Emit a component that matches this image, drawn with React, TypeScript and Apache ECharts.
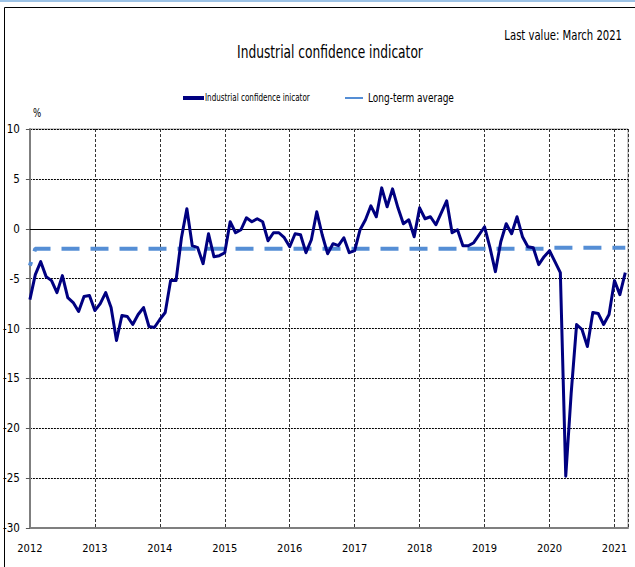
import React, { useEffect, useRef } from 'react';
import * as echarts from 'echarts';

const START_YEAR = 2012;
const yearLabels = ['2012', '2013', '2014', '2015', '2016', '2017', '2018', '2019', '2020', '2021'];

// Monthly values, Jan 2012 .. Mar 2021
const confidence = [
  // 2012
  -7.1, -4.6, -3.3, -4.8, -5.2, -6.4, -4.7, -6.9, -7.4, -8.3, -6.8, -6.7,
  // 2013
  -8.2, -7.5, -6.4, -7.9, -11.2, -8.7, -8.8, -9.6, -8.6, -7.9, -9.8, -9.9,
  // 2014
  -9.1, -8.4, -5.2, -5.2, -0.9, 2.0, -1.7, -1.9, -3.5, -0.5, -2.8, -2.7,
  // 2015
  -2.4, 0.7, -0.4, -0.1, 1.1, 0.7, 1.0, 0.7, -1.2, -0.4, -0.4, -0.9,
  // 2016
  -1.8, -0.5, -0.6, -2.4, -1.1, 1.7, -0.6, -2.5, -1.5, -1.7, -0.9, -2.4,
  // 2017
  -2.2, -0.1, 0.9, 2.3, 1.2, 4.1, 2.2, 4.0, 2.1, 0.5, 0.9, -0.8,
  // 2018
  2.1, 1.0, 1.2, 0.4, 1.6, 2.8, -0.4, -0.1, -1.7, -1.7, -1.4, -0.6,
  // 2019
  0.2, -1.9, -4.3, -1.3, 0.5, -0.5, 1.2, -0.8, -1.8, -1.9, -3.6, -2.8,
  // 2020
  -2.2, -3.3, -4.4, -24.8, -16.5, -9.6, -10.1, -11.8, -8.4, -8.5, -9.6, -8.6,
  // 2021
  -5.2, -6.6, -4.4,
];

const longTermAverage = [
  -3.7, -2.0, -2.0, -2.0, -2.0, -2.0, -2.0, -2.0, -2.0, -2.0, -2.0, -2.0,
  -2.0, -2.0, -2.0, -2.0, -2.0, -2.0, -2.0, -2.0, -2.0, -2.0, -2.0, -2.0,
  -2.0, -2.0, -2.0, -2.0, -2.0, -2.0, -2.0, -2.0, -2.0, -2.0, -2.0, -2.0,
  -2.0, -2.0, -2.0, -2.0, -2.0, -2.0, -2.0, -2.0, -2.0, -2.0, -2.0, -2.0,
  -2.0, -2.0, -2.0, -2.0, -2.0, -2.0, -2.0, -2.0, -2.0, -2.0, -2.0, -2.0,
  -2.0, -2.0, -2.0, -2.0, -2.0, -2.0, -2.0, -2.0, -2.0, -2.0, -2.0, -2.0,
  -2.0, -2.0, -2.0, -2.0, -2.0, -2.0, -2.0, -2.0, -2.0, -2.0, -2.0, -2.0,
  -2.0, -2.0, -2.0, -2.0, -2.0, -2.0, -2.0, -2.0, -2.0, -2.0, -2.0, -2.0,
  -1.9, -1.9, -1.9, -1.9, -1.9, -1.9, -1.9, -1.9, -1.9, -1.9, -1.9, -1.9,
  -1.9, -1.9, -1.9,
];

const Y_MIN = -30;
const Y_MAX = 10;
const Y_STEP = 5;

const SERIES_MAIN = 'Industrial confidence inicator';
const SERIES_AVG = 'Long-term average';
const TITLE = 'Industrial confidence indicator';
const SUBTITLE = 'Last value: March 2021';

const FONT = '"DejaVu Sans Condensed", "Liberation Sans Narrow", sans-serif';
const NAVY = '#000080';
const LIGHT_BLUE = '#558ed5';
const NARROW = 0.8;

function narrowText(text: string, x: number, y: number, size: number, align: string) {
  return {
    type: 'text',
    x,
    y,
    scaleX: NARROW,
    silent: true,
    style: {
      text,
      font: `${size}px ${FONT}`,
      fill: '#000',
      textAlign: align,
      textVerticalAlign: 'middle',
    },
  };
}

export default function App() {
  const ref = useRef<HTMLDivElement>(null);

  useEffect(() => {
    document.body.style.margin = '0';
    const chart = echarts.init(ref.current!, null, { renderer: 'svg' });
    const option: any = {
      animation: false,
      backgroundColor: '#ffffff',
      textStyle: { fontFamily: FONT },
      grid: {
        left: 29,
        right: 7,
        top: 129,
        bottom: 39,
        show: true,
        borderColor: '#9a9a9a',
        borderWidth: 1,
        containLabel: false,
      },
      xAxis: {
        type: 'value',
        min: 0,
        max: confidence.length - 0.5,
        interval: 12,
        axisLine: { show: true, onZero: false, lineStyle: { color: '#7f7f7f', width: 2 } },
        axisTick: { show: false },
        axisLabel: {
          fontFamily: FONT,
          fontSize: 11,
          color: '#000',
          margin: 15,
          showMaxLabel: false,
          formatter: (v: number) => {
            const k = Math.round(v);
            if (Math.abs(v - k) > 1e-6 || k % 12 !== 0) return '';
            return yearLabels[k / 12] ?? String(START_YEAR + k / 12);
          },
        },
        splitLine: { show: true, lineStyle: { color: '#333', type: [3, 2], width: 1 } },
      },
      yAxis: {
        type: 'value',
        min: Y_MIN,
        max: Y_MAX,
        interval: Y_STEP,
        axisLine: { show: true, lineStyle: { color: '#7f7f7f', width: 2 } },
        axisTick: { show: true, length: 4, lineStyle: { color: '#555' } },
        axisLabel: { fontFamily: FONT, fontSize: 11.5, color: '#000', margin: 10 },
        splitLine: { show: true, lineStyle: { color: '#000', type: [2, 1], width: 1 } },
      },
      series: [
        {
          name: SERIES_AVG,
          type: 'line',
          data: longTermAverage.map((v, i) => [i, v]),
          showSymbol: false,
          symbol: 'none',
          lineStyle: { color: LIGHT_BLUE, width: 4, type: [18, 11], dashOffset: 14, cap: 'butt' },
          z: 3,
        },
        {
          name: SERIES_MAIN,
          type: 'line',
          data: confidence.map((v, i) => [i, v]),
          showSymbol: false,
          symbol: 'none',
          lineStyle: { color: NAVY, width: 3, join: 'round' },
          z: 4,
          markLine: {
            silent: true,
            symbol: 'none',
            label: { show: false },
            lineStyle: { color: '#000', type: 'solid', width: 1 },
            data: [{ yAxis: 0 }],
            z: 2,
          },
        },
      ],
      graphic: [
        {
          type: 'line',
          shape: { x1: 0, y1: 1, x2: 635, y2: 1 },
          style: { stroke: '#9dc3e6', lineWidth: 2 },
          silent: true,
        },
        {
          type: 'rect',
          shape: { x: 4.5, y: 7.5, width: 700, height: 700 },
          style: { fill: 'none', stroke: '#000', lineWidth: 1 },
          silent: true,
          z: -1,
        },
        narrowText(TITLE, 330, 52, 17, 'center'),
        narrowText(SUBTITLE, 622, 35, 14, 'right'),
        {
          type: 'line',
          shape: { x1: 183, y1: 98, x2: 204, y2: 98 },
          style: { stroke: NAVY, lineWidth: 4 },
          silent: true,
        },
        narrowText(SERIES_MAIN, 205, 98, 10, 'left'),
        {
          type: 'line',
          shape: { x1: 345, y1: 98, x2: 363, y2: 98 },
          style: { stroke: LIGHT_BLUE, lineWidth: 2 },
          silent: true,
        },
        narrowText(SERIES_AVG, 368, 98, 12.5, 'left'),
        narrowText('%', 33, 113, 12, 'left'),
      ],
    };
    chart.setOption(option);
    return () => chart.dispose();
  }, []);

  return <div ref={ref} style={{ width: 635, height: 567 }} />;
}
